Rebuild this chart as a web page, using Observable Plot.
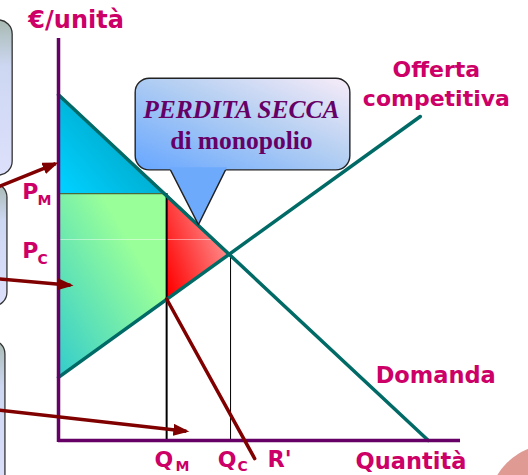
<!DOCTYPE html>
<html><head><meta charset="utf-8">
<script src="https://cdn.jsdelivr.net/npm/d3@7"></script>
<script src="https://cdn.jsdelivr.net/npm/@observablehq/plot@0.6"></script>
<style>html,body{margin:0;padding:0;background:#fff;} svg{display:block;}</style>
</head><body><div id="chart"></div>
<script>
// --- curves (quantity, price) ---
const demandQ = [0, 92];
const demandP = [86, 0];
const supplyQ = [0, 90];
const supplyP = [15.7, 80.6];
// --- key points ---
const Qm = 26.9, Pm = 61.4, Qc = 42.8, Pc = 46.3, Psm = 35.2;
// --- shaded regions ---
const surplusQ = [0, Qm, 0];
const surplusP = [86, Pm, Pm];
const producerQ = [0, Qm, Qm, 0];
const producerP = [Pm, Pm, Psm, 15.7];
const deadQ = [Qm, Qc, Qm];
const deadP = [Pm, Pc, Psm];
// --- arrows from the left callouts ---
const arrowX1 = [-16, -16, -16];
const arrowY1 = [62.7, 40.3, 7.7];
const arrowX2 = [-0.7, 3.0, 31.8];
const arrowY2 = [68.9, 38.6, 2.3];
const rLineQ = [Qm, 48.8];
const rLineP = [Psm, -4.5];
// --- callouts ---
const boxX1 = [-30, -30, -30];
const boxX2 = [-11.4, -12.7, -13.2];
const boxY1 = [65.9, 33.3, -14];
const boxY2 = [104.5, 63.9, 24.9];
const bubbleBox = {x1: 19.2, x2: 72.6, y1: 67.2, y2: 90};
const tailFillQ = [27.5, 34.8, 41.9];
const tailFillP = [68, 53.7, 68];
const tailQ = [27.9, 34.8, 41.5];
const tailP = [67.2, 53.7, 67.2];
const blobX = [122.8], blobY = [-16.8];
// --- labels ---
const yTitle = "€/unità";
const yTitleX = -7.5, yTitleY = 102.5;
const startLabels = ["Domanda", "Quantità", "R'"];
const startX = [78.9, 73.9, 52.0];
const startY = [14.2, -7.0, -6.7];
const midLabels = ["Offerta", "competitiva"];
const midX = [94.0, 94.0];
const midY = [90.3, 83.3];
const mainSym = ["P", "P", "Q", "Q"];
const mainX = [-9.0, -9.0, 23.9, 39.6];
const mainY = [60.0, 45.3, -6.7, -6.7];
const subSym = ["M", "C", "M", "C"];
const subX = [-5.2, -5.2, 29.1, 44.5];
const subY = [58.7, 43.8, -7.5, -7.5];
const bubbleLine1 = "PERDITA SECCA", bubbleLine2 = "di monopolio";
const bubbleX = [45.5, 45.5];
const bubbleY = [80.3, 72.6];

const pts = (qs, ps) => qs.map((q, i) => ({q, p: ps[i]}));
const idx = a => a.map((_, i) => i);

const teal = "#006a66", purple = "#660066", maroon = "#800000", pink = "#cc0066";
const sans = "DejaVu Sans";

const chart = Plot.plot({
  width: 528, height: 475,
  marginLeft: 58, marginRight: 68, marginTop: 38, marginBottom: 35,
  x: {domain: [0, 100], axis: null},
  y: {domain: [0, 100], axis: null},
  style: {background: "white"},
  marks: [
    Plot.dot(idx(blobX), {x: i => blobX[i], y: i => blobY[i], r: 64, fill: "#e09a94", stroke: "none"}),
    // left callouts
    Plot.rect(idx(boxX1), {x1: i => boxX1[i], x2: i => boxX2[i], y1: i => boxY1[i], y2: i => boxY2[i],
      rx: 14, fill: "url(#gBox)", stroke: "#333", strokeWidth: 1.3}),
    // regions
    Plot.line(pts(surplusQ, surplusP), {x: "q", y: "p", fill: "url(#gCyan)", stroke: "none"}),
    Plot.line(pts(producerQ, producerP), {x: "q", y: "p", fill: "url(#gGreen)", stroke: "none"}),
    Plot.line(pts(deadQ, deadP), {x: "q", y: "p", fill: "url(#gRed)", stroke: "none"}),
    Plot.ruleY([50], {x1: 0, x2: 39, stroke: "white", strokeOpacity: 0.45, strokeWidth: 1}),
    Plot.ruleY([Pm], {x1: 0, x2: Qm, stroke: "#4d6a3c", strokeWidth: 1.2}),
    Plot.ruleX([Qm], {y1: 0, y2: Pm, stroke: "black", strokeWidth: 2}),
    Plot.ruleX([Qc], {y1: 0, y2: Pc, stroke: "black", strokeWidth: 1}),
    // curves
    Plot.line(pts(demandQ, demandP), {x: "q", y: "p", stroke: teal, strokeWidth: 3.5}),
    Plot.line(pts(supplyQ, supplyP), {x: "q", y: "p", stroke: teal, strokeWidth: 3.5}),
    // axes
    Plot.ruleX([0], {y1: -0.5, y2: 100, stroke: purple, strokeWidth: 3.5}),
    Plot.ruleY([0], {x1: 0, x2: 100, stroke: purple, strokeWidth: 3.5}),
    // arrows
    Plot.link(idx(arrowX1), {x1: i => arrowX1[i], y1: i => arrowY1[i], x2: i => arrowX2[i], y2: i => arrowY2[i],
      stroke: maroon, strokeWidth: 3.5}),
    Plot.line(pts(rLineQ, rLineP), {x: "q", y: "p", stroke: maroon, strokeWidth: 3.5}),
    // speech bubble
    Plot.rect([bubbleBox], {x1: "x1", x2: "x2", y1: "y1", y2: "y2", rx: 14, fill: "url(#gBubble)", stroke: "#222", strokeWidth: 1.4}),
    Plot.line(pts(tailFillQ, tailFillP), {x: "q", y: "p", fill: "#6eaafc", stroke: "none"}),
    Plot.line(pts(tailQ, tailP), {x: "q", y: "p", stroke: "#222", strokeWidth: 1.4}),
    Plot.text([bubbleLine1], {x: bubbleX[0], y: bubbleY[0], text: d => d,
      fontFamily: "Liberation Serif", fontWeight: "bold", fontStyle: "italic",
      fontSize: 25.5, fill: purple, lineAnchor: "bottom", textAnchor: "middle"}),
    Plot.text([bubbleLine2], {x: bubbleX[1], y: bubbleY[1], text: d => d,
      fontFamily: "Liberation Serif", fontWeight: "bold",
      fontSize: 25.5, fill: purple, lineAnchor: "bottom", textAnchor: "middle"}),
    // labels
    Plot.text([yTitle], {x: yTitleX, y: yTitleY, text: d => d, textAnchor: "start", lineAnchor: "bottom",
      fontFamily: sans, fontWeight: "bold", fontSize: 24, fill: pink}),
    Plot.text(idx(startLabels), {x: i => startX[i], y: i => startY[i], text: i => startLabels[i],
      textAnchor: "start", lineAnchor: "bottom",
      fontFamily: sans, fontWeight: "bold", fontSize: 22.5, fill: pink}),
    Plot.text(idx(midLabels), {x: i => midX[i], y: i => midY[i], text: i => midLabels[i],
      textAnchor: "middle", lineAnchor: "bottom",
      fontFamily: sans, fontWeight: "bold", fontSize: 22, fill: pink}),
    Plot.text(idx(mainSym), {x: i => mainX[i], y: i => mainY[i], text: i => mainSym[i],
      textAnchor: "start", lineAnchor: "bottom", fontFamily: sans, fontWeight: "bold", fontSize: 22, fill: pink}),
    Plot.text(idx(subSym), {x: i => subX[i], y: i => subY[i], text: i => subSym[i],
      textAnchor: "start", lineAnchor: "bottom", fontFamily: sans, fontWeight: "bold", fontSize: 14, fill: pink})
  ]
});

// gradients & arrow marker
const svg = d3.select(chart);
const defs = svg.insert("defs", ":first-child");
function grad(id, stops, x1, y1, x2, y2) {
  const g = defs.append("linearGradient").attr("id", id)
    .attr("x1", x1).attr("y1", y1).attr("x2", x2).attr("y2", y2);
  stops.forEach(([o, c]) => g.append("stop").attr("offset", o).attr("stop-color", c));
}
grad("gCyan", [[0, "#00d0ff"], [1, "#0096b0"]], 0, 0.9, 1, 0.1);
grad("gGreen", [[0, "#33cccc"], [0.7, "#99ff99"], [1, "#99ff99"]], 0, 1, 1, 0);
grad("gRed", [[0, "#ff0000"], [1, "#ffa0a0"]], 0, 0.9, 1, 0.3);
grad("gBubble", [[0, "#66a6ff"], [0.55, "#b4cff2"], [1, "#f8ecf8"]], 0, 1, 1, 0);
grad("gBox", [[0, "#a8bab2"], [0.3, "#cdd7f2"], [1, "#dde0fb"]], 0, 0, 0, 1);
defs.append("marker").attr("id", "mArrow").attr("markerUnits", "userSpaceOnUse")
  .attr("markerWidth", 18).attr("markerHeight", 14).attr("refX", 13).attr("refY", 6)
  .attr("orient", "auto").attr("viewBox", "0 0 18 14")
  .append("path").attr("d", "M0,0 L16,6 L0,12 Z").attr("fill", maroon);
svg.selectAll("g[aria-label=link] path").attr("marker-end", "url(#mArrow)");

document.getElementById("chart").appendChild(chart);
</script>
</body></html>
